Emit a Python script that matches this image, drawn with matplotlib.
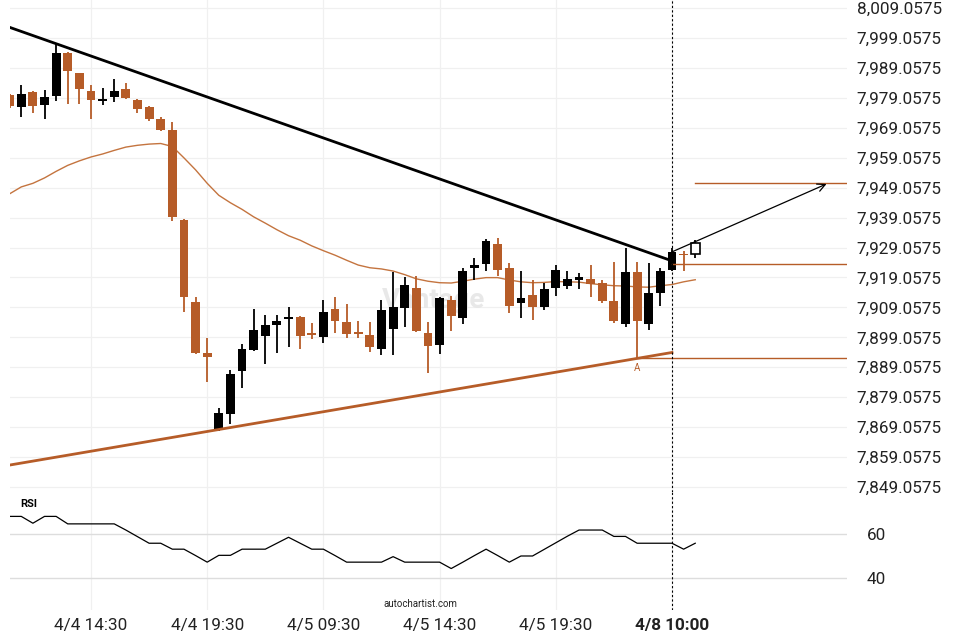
import matplotlib
matplotlib.use('Agg')
import matplotlib.pyplot as plt
from matplotlib.ticker import FuncFormatter
import numpy as np

plt.rcParams['font.family'] = ['Roboto', 'DejaVu Sans']

UP = '#000000'
DOWN = '#B65C28'
MA_COL = '#C4743F'
GRID = '#F0F0F0'

# 30-minute candles, index 0 = 4/4 14:30, index 50 = 4/8 10:00
first_idx = -7
opens = [7980.0, 7976.1, 7981.1, 7976.8, 7979.8, 7994.0, 7987.3, 7981.3, 7978.1, 7979.4,
         7982.0, 7978.3, 7976.0, 7972.0, 7968.3, 7938.2, 7910.9, 7893.8, 7868.1, 7873.5,
         7887.9, 7894.8, 7899.6, 7903.2, 7905.2, 7905.8, 7900.2, 7899.3, 7908.5, 7904.2,
         7900.5, 7899.8, 7895.3, 7901.9, 7908.9, 7915.5, 7900.4, 7896.5, 7911.5, 7905.6,
         7922.3, 7923.4, 7930.2, 7922.1, 7910.4, 7913.2, 7909.3, 7915.6, 7916.3, 7918.2,
         7918.4, 7917.3, 7911.2, 7903.5, 7920.8, 7903.5, 7913.7, 7921.5, 7926.8, 7926.8]
highs = [7980.4, 7983.3, 7981.4, 7981.6, 7997.0, 7994.2, 7987.5, 7983.2, 7982.4, 7985.2,
         7983.9, 7978.5, 7976.3, 7972.8, 7971.0, 7938.5, 7912.6, 7898.7, 7875.4, 7888.2,
         7896.8, 7908.5, 7906.5, 7906.4, 7909.1, 7906.2, 7903.7, 7911.5, 7912.5, 7910.1,
         7904.5, 7904.3, 7911.5, 7921.0, 7919.1, 7919.5, 7904.3, 7912.6, 7912.8, 7922.1,
         7925.7, 7931.8, 7932.1, 7924.0, 7921.1, 7918.2, 7917.1, 7923.2, 7921.3, 7920.4,
         7923.2, 7918.2, 7924.1, 7928.8, 7924.1, 7924.0, 7922.1, 7928.8, 7927.9, 7931.6]
lows = [7975.6, 7972.5, 7973.9, 7971.9, 7978.0, 7976.9, 7976.9, 7972.1, 7976.7, 7977.8,
        7978.8, 7974.1, 7971.3, 7967.9, 7937.9, 7907.4, 7893.5, 7884.2, 7867.9, 7870.0,
        7882.0, 7894.6, 7890.1, 7893.7, 7895.9, 7895.2, 7898.4, 7897.0, 7900.4, 7898.9,
        7898.9, 7894.1, 7893.1, 7893.1, 7902.6, 7900.9, 7887.0, 7893.5, 7901.2, 7903.4,
        7918.2, 7921.2, 7919.5, 7907.3, 7905.4, 7904.8, 7908.2, 7913.0, 7915.1, 7915.1,
        7912.4, 7910.4, 7903.7, 7902.4, 7892.1, 7901.5, 7909.5, 7921.3, 7921.2, 7925.4]
closes = [7976.4, 7980.3, 7976.4, 7979.3, 7994.0, 7988.1, 7982.1, 7978.4, 7978.3, 7981.3,
          7979.0, 7975.4, 7972.1, 7968.4, 7939.2, 7912.6, 7893.7, 7892.6, 7873.9, 7886.8,
          7895.2, 7901.5, 7903.2, 7904.5, 7905.8, 7899.5, 7900.0, 7907.5, 7904.5, 7900.3,
          7900.3, 7895.9, 7908.2, 7909.2, 7916.5, 7901.3, 7896.3, 7912.1, 7906.3, 7921.2,
          7923.3, 7931.2, 7921.5, 7909.6, 7912.1, 7909.3, 7915.2, 7921.5, 7918.4, 7919.3,
          7916.8, 7911.3, 7904.6, 7920.8, 7904.6, 7914.0, 7921.2, 7927.6, 7926.4, 7930.5]
ma = [7947.0, 7949.3, 7950.5, 7952.3, 7954.5, 7956.5, 7958.0, 7959.3, 7960.3, 7961.5,
      7962.6, 7963.2, 7963.6, 7963.8, 7962.8, 7959.0, 7955.0, 7950.5, 7946.5, 7944.0,
      7941.8, 7939.3, 7937.2, 7935.0, 7933.0, 7931.5, 7929.6, 7928.0, 7926.5, 7924.8,
      7923.2, 7922.3, 7921.9, 7921.2, 7920.0, 7918.6, 7917.8, 7917.3, 7917.2, 7917.8,
      7918.5, 7919.0, 7919.0, 7918.2, 7917.6, 7917.3, 7917.4, 7917.7, 7917.6, 7917.5,
      7917.0, 7916.6, 7916.3, 7916.2, 7915.9, 7915.8, 7916.3, 7916.7, 7917.6, 7918.3]
rsi = [68.0, 68.0, 64.9, 68.0, 68.0, 64.6, 64.6, 64.6, 64.6, 64.6,
       61.8, 58.8, 55.8, 55.8, 53.1, 53.1, 50.2, 47.2, 50.3, 50.3,
       53.1, 53.1, 53.1, 55.8, 58.5, 55.8, 53.1, 53.1, 50.2, 47.2,
       47.2, 47.2, 47.2, 49.7, 47.2, 47.2, 47.2, 47.2, 44.3, 47.2,
       50.2, 53.1, 50.2, 47.2, 50.0, 50.0, 53.0, 56.0, 59.0, 61.8,
       61.8, 61.8, 58.9, 58.9, 55.8, 55.8, 55.8, 55.8, 53.1, 55.8]

tick_idx = [0, 10, 20, 30, 40, 50]
tick_labels = ['4/4 14:30', '4/4 19:30', '4/5 09:30', '4/5 14:30', '4/5 19:30', '4/8 10:00']
price_ticks = np.arange(7849.0575, 8010, 10)
rsi_ticks = [40, 60]

# pattern lines: (start index, start price), (end index, end price)
resistance = [(-7, 8002.6), (50, 7924.6)]
support = [(-7, 7856.4), (50, 7894.0)]
breakout_idx = 50
forecast = [(50, 7927.6), (63.3, 7950.3)]
level_lines = [(52, 7950.5), (50, 7923.5), (47, 7892.2)]
point_a = (47, 7892.1)

x = np.arange(first_idx, first_idx + len(opens))
o, h, l, c = map(np.array, (opens, highs, lows, closes))

fig = plt.figure(figsize=(9.6, 6.4), dpi=100)
ax = fig.add_axes([10/960, 148/640, 837/960, 492/640])
rax = fig.add_axes([10/960, 30/640, 837/960, 118/640], sharex=ax)

xmin = -6.97
ax.set_xlim(xmin, xmin + 837/11.62)
ax.set_ylim(7847.40, 8011.73)
rax.set_ylim(25.45, 79.09)

for a in (ax, rax):
    for s in a.spines.values():
        s.set_visible(False)
    a.set_axisbelow(True)

# candles
up = c >= o
col = np.where(up, UP, DOWN)
ax.vlines(x, l, h, colors=col, lw=1.3, zorder=3)
body_lo = np.minimum(o, c)
body_h = np.maximum(np.abs(c - o), 0.45)
face = list(col)
face[-1] = 'white'
ax.bar(x, body_h, bottom=body_lo, width=0.76, color=face, edgecolor=col,
       linewidth=[0] * (len(x) - 1) + [1.2], zorder=4)

ax.plot(x, ma, color=MA_COL, lw=1.0, zorder=2)

# pattern
(rx0, ry0), (rx1, ry1) = resistance
ax.plot([rx0, rx1], [ry0, ry1], color='black', lw=2, zorder=5)
(sx0, sy0), (sx1, sy1) = support
ax.plot([sx0, sx1], [sy0, sy1], color=DOWN, lw=2, zorder=5)
xr = ax.get_xlim()[1]
for xs, yv in level_lines:
    ax.plot([xs, xr], [yv, yv], color=DOWN, lw=1, zorder=5)
ax.annotate('', xy=forecast[1], xytext=forecast[0],
            arrowprops=dict(arrowstyle='->', color='black', lw=0.9,
                            mutation_scale=14, shrinkA=0, shrinkB=0), zorder=6)
ax.text(point_a[0], point_a[1] - 1.6, 'A', color=DOWN, fontsize=7,
        ha='center', va='top', zorder=6)
ax.text(29.5, 7911.5, 'Vantage', color='#E6E6E6', fontsize=20, fontweight='bold',
        ha='center', va='center', zorder=1, alpha=0.9)

# axes styling
ax.yaxis.tick_right()
ax.set_yticks(price_ticks)
ax.yaxis.set_major_formatter(FuncFormatter(lambda v, p: f'{v:,.4f}'))
ax.tick_params(axis='y', length=0, pad=7, labelsize=12.3, labelcolor='#222222')
ax.tick_params(axis='x', length=0, labelbottom=False)
ax.set_xticks(tick_idx)
ax.grid(True, color=GRID, lw=0.9)

rax.yaxis.tick_right()
rax.set_yticks(rsi_ticks)
rax.set_yticklabels(['40', '60'])
rax.tick_params(axis='y', length=0, pad=14, labelsize=12.3, labelcolor='#222222')
rax.set_xticks(tick_idx)
rax.set_xticklabels(tick_labels)
rax.tick_params(axis='x', length=0, pad=6, labelsize=12.3, labelcolor='#222222')
rax.get_xticklabels()[-1].set_fontweight('bold')
rax.grid(True, axis='x', color=GRID, lw=0.9)
rax.grid(True, axis='y', color='#DDDDDD', lw=1)
rax.plot(x, rsi, color='black', lw=0.9, zorder=3)
rax.text(0.012, 0.9, 'RSI', transform=rax.transAxes, fontsize=8,
         fontweight='bold', ha='left', va='center')
rax.text(0.49, 0.05, 'autochartist.com', transform=rax.transAxes, fontsize=7,
         ha='center', va='center', color='#222222')

for a in (ax, rax):
    a.axvline(breakout_idx, color='black', lw=0.8, ls=(0, (2, 2)), zorder=6)

fig.savefig('out.png', dpi=100)
